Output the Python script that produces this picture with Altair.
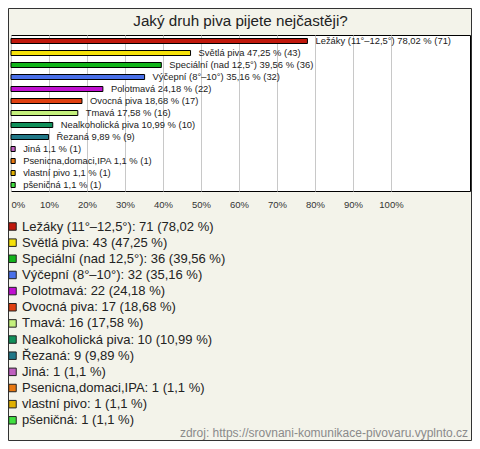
import altair as alt
import pandas as pd

categories = ["Ležáky (11°–12,5°)", "Světlá piva", "Speciální (nad 12,5°)", "Výčepní (8°–10°)",
              "Polotmavá", "Ovocná piva", "Tmavá", "Nealkoholická piva", "Řezaná", "Jiná",
              "Psenicna,domaci,IPA", "vlastní pivo", "pšeničná"]
counts = [71, 43, 36, 32, 22, 17, 16, 10, 9, 1, 1, 1, 1]
percents = [78.02, 47.25, 39.56, 35.16, 24.18, 18.68, 17.58, 10.99, 9.89, 1.1, 1.1, 1.1, 1.1]
colors = ["#c0180c", "#f5e10a", "#12b41a", "#4a70e8", "#c010d0", "#e04010", "#c4f07c",
          "#10905a", "#207888", "#c060c0", "#e87810", "#e0b000", "#40e040"]
tick_values = [0, 10, 20, 30, 40, 50, 60, 70, 80, 90, 100]
title_text = "Jaký druh piva pijete nejčastěji?"
source_text = "zdroj: https://srovnani-komunikace-pivovaru.vyplnto.cz"


def fmt(p):
    s = f"{p:.2f}".rstrip("0").rstrip(".")
    return s.replace(".", ",")


df = pd.DataFrame({
    "cat": categories,
    "count": counts,
    "pct": percents,
    "bar_label": [f"{c} {fmt(p)} % ({n})" for c, p, n in zip(categories, percents, counts)],
    "legend_label": [f"{c}: {n} ({fmt(p)} %)" for c, p, n in zip(categories, percents, counts)],
})

FONT = "Liberation Sans"

x = alt.X("pct:Q",
          scale=alt.Scale(domain=[0, 120.8], nice=False, zero=True),
          axis=alt.Axis(values=tick_values, labelExpr="datum.value + '%'", title=None,
                        domain=False, ticks=False, grid=True, gridColor="#c8c8c8",
                        labelFontSize=9.5, labelColor="#333333", labelPadding=8,
                        labelFlush=True, labelFont=FONT))
y = alt.Y("cat:N", sort=categories,
          scale=alt.Scale(paddingInner=0, paddingOuter=0), axis=None)

bars = alt.Chart(df).mark_bar(size=5, stroke="#000000", strokeWidth=1).encode(
    x=x, y=y,
    color=alt.Color("legend_label:N",
                    scale=alt.Scale(domain=df["legend_label"].tolist(), range=colors),
                    legend=alt.Legend(orient="none", legendX=-5, legendY=185, title=None,
                                      symbolType="square", symbolSize=56,
                                      symbolStrokeColor="#222222", symbolStrokeWidth=1,
                                      labelFontSize=13, labelFont=FONT, labelColor="#222222",
                                      labelOffset=3, rowPadding=2.15, padding=0,
                                      labelLimit=400)),
)

labels = alt.Chart(df).mark_text(align="left", baseline="middle", dx=8, fontSize=9.4,
                                 font=FONT, color="#222222").encode(
    x="pct:Q", y=alt.Y("cat:N", sort=categories), text="bar_label:N")

title = alt.Chart(pd.DataFrame({"t": [title_text]})).mark_text(
    align="center", baseline="alphabetic", fontSize=15.2, font=FONT, color="#222222").encode(
    x=alt.value(229.5), y=alt.value(-9), text="t:N")

source = alt.Chart(pd.DataFrame({"t": [source_text]})).mark_text(
    align="right", baseline="alphabetic", fontSize=12, font=FONT, color="#8a8a8a").encode(
    x=alt.value(457), y=alt.value(401.5), text="t:N")

border = alt.Chart(pd.DataFrame({"a": [0]})).mark_rect(fill=None, stroke="#333333", strokeWidth=1).encode(
    x=alt.value(-2.5), x2=alt.value(460.5), y=alt.value(-26.5), y2=alt.value(405.5))

chart = alt.layer(bars, labels, title, source, border).properties(
    width=459, height=156,
    autosize=alt.AutoSizeParams(type="none"),
    padding={"left": 3, "top": 27, "right": 2, "bottom": 250},
).configure(background="#f3f3ea").configure_view(fill="#ffffff", stroke="#000000", strokeWidth=1)

chart.save("out.html", embed_options={"renderer": "svg", "actions": False})
